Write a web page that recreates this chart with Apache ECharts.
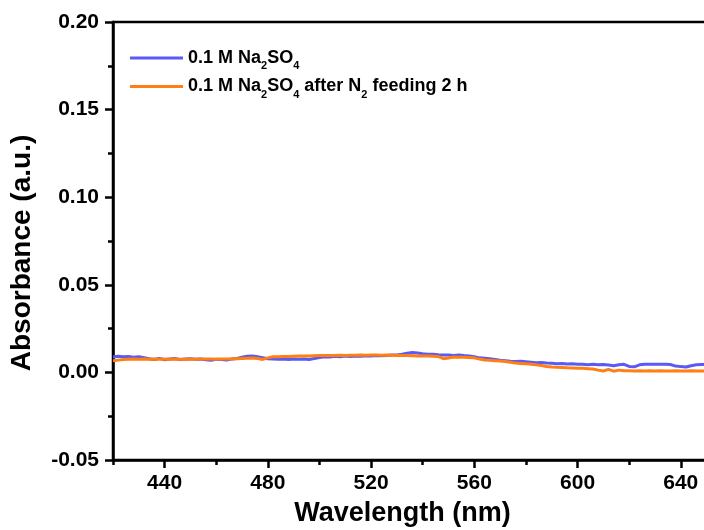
<!DOCTYPE html>
<html>
<head>
<meta charset="utf-8">
<script src="https://cdn.jsdelivr.net/npm/echarts@6/dist/echarts.min.js"></script>
<style>html,body{margin:0;padding:0;background:#fff;}#c{width:704px;height:530px;}</style>
</head>
<body>
<div id="c"></div>
<script>
const wavelengths = [420,422,424,426,428,430,432,434,436,438,440,442,444,446,448,450,452,454,456,458,460,462,464,466,468,470,472,474,476,478,480,482,484,486,488,490,492,494,496,498,500,502,504,506,508,510,512,514,516,518,520,522,524,526,528,530,532,534,536,538,540,542,544,546,548,550,552,554,556,558,560,562,564,566,568,570,572,574,576,578,580,582,584,586,588,590,592,594,596,598,600,602,604,606,608,610,612,614,616,618,620,622,624,626,628,630,632,634,636,638,640,642,644,646,648,650,652,654,656,658,660];
const naSO4 = [0.0088,0.0092,0.0089,0.0091,0.0087,0.0089,0.0084,0.0078,0.0074,0.0080,0.0072,0.0076,0.0079,0.0073,0.0077,0.0078,0.0075,0.0077,0.0072,0.0069,0.0075,0.0074,0.0070,0.0076,0.0079,0.0086,0.0092,0.0094,0.0090,0.0084,0.0078,0.0076,0.0075,0.0076,0.0074,0.0076,0.0075,0.0077,0.0074,0.0079,0.0085,0.0089,0.0088,0.0092,0.0089,0.0093,0.0091,0.0094,0.0092,0.0095,0.0093,0.0096,0.0095,0.0097,0.0099,0.0100,0.0104,0.0110,0.0113,0.0111,0.0106,0.0103,0.0104,0.0101,0.0100,0.0099,0.0097,0.0099,0.0096,0.0094,0.0089,0.0083,0.0081,0.0078,0.0074,0.0070,0.0067,0.0064,0.0062,0.0063,0.0061,0.0058,0.0055,0.0056,0.0053,0.0052,0.0050,0.0051,0.0048,0.0049,0.0046,0.0047,0.0044,0.0046,0.0043,0.0045,0.0042,0.0038,0.0044,0.0046,0.0034,0.0032,0.0043,0.0046,0.0047,0.0046,0.0047,0.0046,0.0045,0.0036,0.0033,0.0031,0.0038,0.0044,0.0045,0.0046,0.0045,0.0046,0.0044,0.0045,0.0046];
const naSO4N2 = [0.0066,0.0070,0.0074,0.0075,0.0076,0.0075,0.0076,0.0075,0.0076,0.0075,0.0076,0.0075,0.0076,0.0075,0.0074,0.0076,0.0075,0.0076,0.0077,0.0076,0.0075,0.0076,0.0077,0.0076,0.0078,0.0080,0.0081,0.0082,0.0079,0.0074,0.0083,0.0089,0.0090,0.0091,0.0091,0.0092,0.0093,0.0093,0.0094,0.0095,0.0096,0.0096,0.0097,0.0097,0.0098,0.0097,0.0098,0.0098,0.0099,0.0098,0.0099,0.0099,0.0098,0.0099,0.0098,0.0097,0.0097,0.0096,0.0095,0.0094,0.0094,0.0093,0.0092,0.0091,0.0078,0.0082,0.0088,0.0087,0.0086,0.0085,0.0083,0.0076,0.0071,0.0069,0.0067,0.0065,0.0062,0.0058,0.0053,0.0051,0.0049,0.0046,0.0043,0.0039,0.0034,0.0031,0.0029,0.0028,0.0026,0.0025,0.0024,0.0023,0.0021,0.0019,0.0013,0.0008,0.0017,0.0007,0.0013,0.0010,0.0009,0.0008,0.0009,0.0008,0.0009,0.0008,0.0009,0.0008,0.0008,0.0009,0.0008,0.0008,0.0009,0.0008,0.0008,0.0009,0.0008,0.0008,0.0009,0.0008,0.0008];
const xMajorTicks = [440,480,520,560,600,640,680];
const seriesNames = ['0.1 M Na2SO4', '0.1 M Na2SO4 after N2 feeding 2 h'];
const legendRich = {
  '0.1 M Na2SO4': '{n|0.1 M Na}{s|2}{n|SO}{s|4}',
  '0.1 M Na2SO4 after N2 feeding 2 h': '{n|0.1 M Na}{s|2}{n|SO}{s|4}{n| after N}{s|2}{n| feeding 2 h}'
};

const FONT = '"Liberation Sans", Arial, sans-serif';
const chart = echarts.init(document.getElementById('c'), null, {renderer: 'canvas'});
const pair = (ys) => wavelengths.map((w, i) => [w, ys[i]]);

chart.setOption({
  animation: false,
  backgroundColor: '#fff',
  grid: {left: 113, top: 22, width: 671, height: 438, containLabel: false, outerBoundsMode: 'none', show: true, borderColor: '#000', borderWidth: 2.5, backgroundColor: 'transparent'},
  legend: {
    orient: 'vertical', left: 125, top: 44, itemGap: 6,
    icon: 'rect', itemWidth: 53, itemHeight: 3,
    data: seriesNames,
    formatter: (name) => legendRich[name],
    textStyle: {
      rich: {
        n: {fontFamily: FONT, fontWeight: 'bold', fontSize: 18, lineHeight: 27, color: '#000'},
        s: {fontFamily: FONT, fontWeight: 'bold', fontSize: 11, color: '#000', verticalAlign: 'bottom'}
      }
    }
  },
  xAxis: [
    {
      type: 'value', min: 420, max: 680, interval: 20, position: 'bottom',
      axisLine: {show: true, onZero: false, lineStyle: {color: '#000', width: 2.5}},
      axisTick: {show: true, inside: false, length: 5, lineStyle: {color: '#000', width: 2.5}},
      axisLabel: {show: false},
      splitLine: {show: false},
      name: 'Wavelength (nm)', nameLocation: 'middle', nameGap: 40,
      nameTextStyle: {fontFamily: FONT, fontWeight: 'bold', fontSize: 27, color: '#000', padding: [0, 92, 0, 0]}
    },
    {
      type: 'value', min: 420, max: 680, position: 'bottom', gridIndex: 0,
      axisLine: {show: false, onZero: false},
      axisTick: {show: true, length: 8, customValues: xMajorTicks, lineStyle: {color: '#000', width: 2.5}},
      axisLabel: {show: true, customValues: xMajorTicks, margin: 13, fontFamily: FONT, fontWeight: 'bold', fontSize: 21, color: '#000'},
      splitLine: {show: false}
    }
  ],
  yAxis: {
    type: 'value', min: -0.05, max: 0.20, interval: 0.05,
    axisLine: {show: true, onZero: false, lineStyle: {color: '#000', width: 2.5}},
    axisTick: {show: true, length: 8, lineStyle: {color: '#000', width: 2.5}},
    minorTick: {show: true, splitNumber: 2, length: 5, lineStyle: {color: '#000', width: 2.5}},
    axisLabel: {margin: 14, fontFamily: FONT, fontWeight: 'bold', fontSize: 21, color: '#000', formatter: (v) => v.toFixed(2)},
    splitLine: {show: false},
    name: 'Absorbance (a.u.)', nameLocation: 'middle', nameGap: 77, nameRotate: 90,
    nameTextStyle: {fontFamily: FONT, fontWeight: 'bold', fontSize: 28, color: '#000', padding: [0, 24, 0, 0]}
  },
  series: [
    {name: seriesNames[0], type: 'line', data: pair(naSO4), showSymbol: false, symbol: 'none', color: '#5a5af5', lineStyle: {width: 3, color: '#5a5af5'}, itemStyle: {color: '#5a5af5'}},
    {name: seriesNames[1], type: 'line', data: pair(naSO4N2), showSymbol: false, symbol: 'none', color: '#ff7f14', lineStyle: {width: 3, color: '#ff7f14'}, itemStyle: {color: '#ff7f14'}}
  ]
});
</script>
</body>
</html>
